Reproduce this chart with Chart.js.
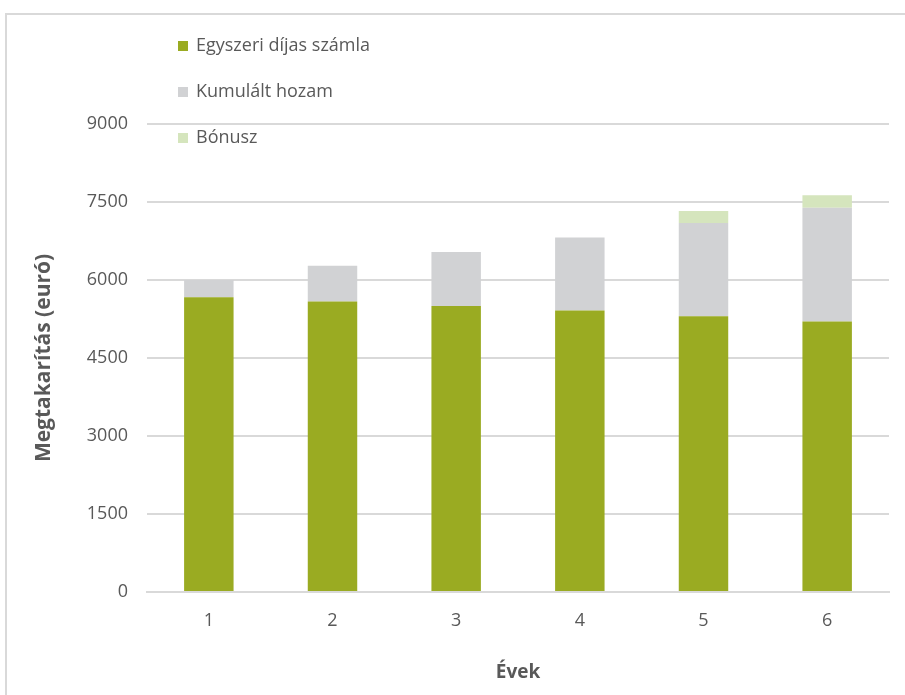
<!DOCTYPE html>
<html>
<head>
<meta charset="utf-8">
<script src="https://cdn.jsdelivr.net/npm/chart.js@4.4.1/dist/chart.umd.min.js"></script>
<style>
  body { margin: 0; background: #fff; }
  #wrap { width: 905px; height: 695px; position: relative; }
</style>
</head>
<body>
<div id="wrap"><canvas id="chart"></canvas></div>
<script>
const years = ["1", "2", "3", "4", "5", "6"];
const egyszeri = [5670, 5585, 5500, 5415, 5305, 5200];
const kumulalt = [330, 690, 1040, 1400, 1790, 2190];
const bonusz = [0, 0, 0, 0, 230, 240];
const yTicks = [0, 1500, 3000, 4500, 6000, 7500, 9000];

const FONT = "'Open Sans', sans-serif";
const TXT = "#595959";
const GRID = "#d9d9d9";

// frame + legend drawn by hand (legend sits inside the plot, like the Excel original)
const extras = {
  id: 'extras',
  beforeDraw(chart) {
    const c = chart.ctx;
    c.save();
    c.strokeStyle = GRID;
    c.lineWidth = 2;
    c.beginPath();
    c.moveTo(6, 695);
    c.lineTo(6, 14);
    c.lineTo(905, 14);
    c.stroke();
    c.restore();
  },
  afterDraw(chart) {
    const c = chart.ctx;
    c.save();
    c.font = "18px " + FONT;
    c.textBaseline = 'middle';
    chart.data.datasets.forEach((ds, i) => {
      const y = 46 + i * 46;
      c.fillStyle = ds.backgroundColor;
      c.fillRect(178, y - 5, 10, 10);
      c.fillStyle = TXT;
      c.fillText(ds.label, 196, y);
    });
    c.restore();
  }
};

new Chart(document.getElementById('chart'), {
  type: 'bar',
  data: {
    labels: years,
    datasets: [
      { label: "Egyszeri díjas számla", data: egyszeri, backgroundColor: "#9aab22" },
      { label: "Kumulált hozam", data: kumulalt, backgroundColor: "#d1d2d4" },
      { label: "Bónusz", data: bonusz, backgroundColor: "#d5e5bd" }
    ]
  },
  options: {
    responsive: true,
    maintainAspectRatio: false,
    animation: false,
    datasets: { bar: { categoryPercentage: 0.8, barPercentage: 0.5, borderWidth: 0 } },
    layout: { padding: { left: 0, right: 16, top: 124, bottom: 0 } },
    plugins: { legend: { display: false }, tooltip: { enabled: false } },
    scales: {
      x: {
        stacked: true,
        grid: { display: false, drawTicks: false },
        border: { display: true, color: GRID, width: 2 },
        ticks: { color: TXT, font: { family: FONT, size: 18 }, padding: 18 },
        title: { display: true, text: "Évek", color: TXT, font: { family: FONT, size: 19, weight: 'bold' }, padding: { top: 0, bottom: 11 } },
        afterFit(scale) { scale.height = 103; }
      },
      y: {
        stacked: true,
        min: 0,
        max: 9000,
        afterBuildTicks(scale) { scale.ticks = yTicks.map(v => ({ value: v })); },
        grid: { color: GRID, lineWidth: 2, drawTicks: false },
        border: { display: false },
        ticks: { color: TXT, font: { family: FONT, size: 18 }, padding: 19, callback: v => String(v) },
        title: { display: true, text: "Megtakarítás (euró)", color: TXT, font: { family: FONT, size: 21, weight: 'bold' }, padding: { top: 31, bottom: 0 } },
        afterFit(scale) { scale.width = 147; }
      }
    }
  },
  plugins: [extras]
});
</script>
</body>
</html>
